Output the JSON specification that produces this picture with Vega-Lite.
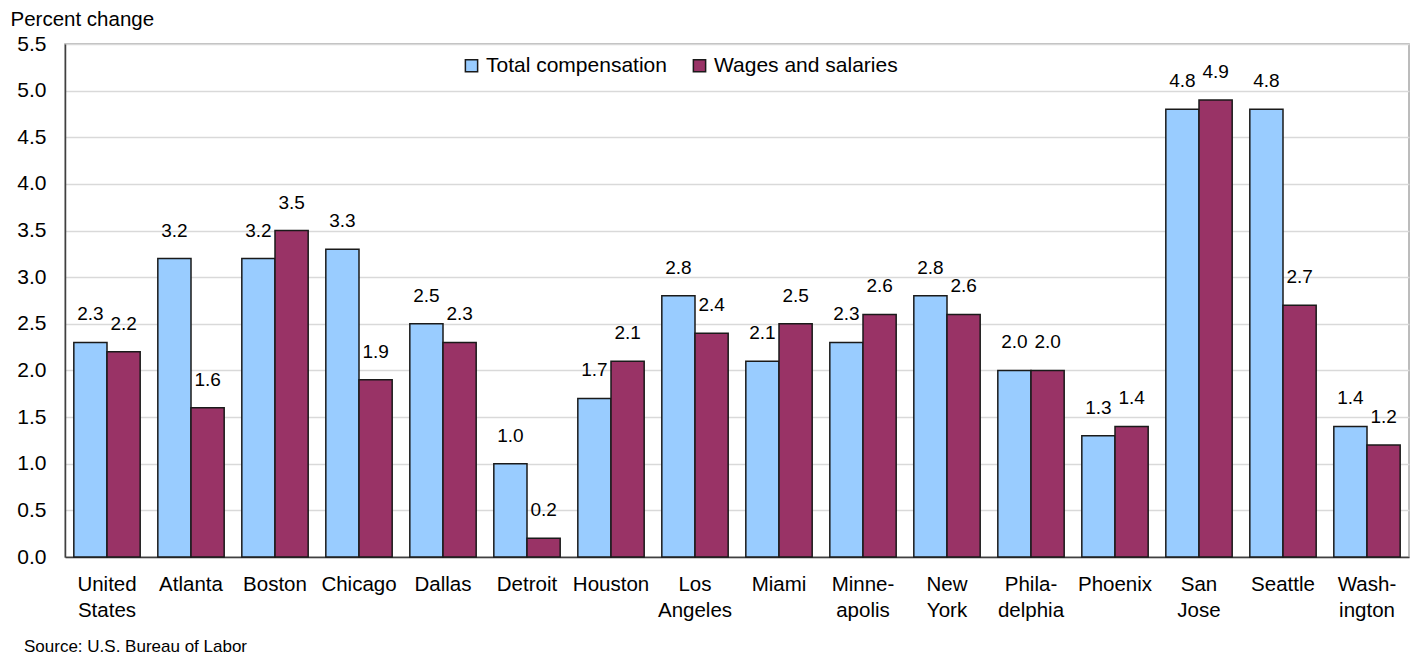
{
  "$schema": "https://vega.github.io/schema/vega-lite/v6.json",
  "width": 1344,
  "height": 513,
  "autosize": {"type": "none"},
  "padding": {"left": 65, "top": 44, "right": 1, "bottom": 98},
  "background": "white",
  "config": {
    "font": "Liberation Sans",
    "view": {"stroke": "#a6a6a6", "strokeWidth": 1.5},
    "title": {"font": "Liberation Sans", "fontWeight": "normal", "color": "#000000"}
  },
  "title": {
    "text": "Source: U.S. Bureau of Labor",
    "orient": "bottom",
    "anchor": "start",
    "frame": "group",
    "fontSize": 17,
    "baseline": "middle",
    "dx": -41,
    "offset": 26
  },
  "data": {
    "values": [
      {"city": "United|States", "series": "Total compensation", "value": 2.3},
      {"city": "United|States", "series": "Wages and salaries", "value": 2.2},
      {"city": "Atlanta", "series": "Total compensation", "value": 3.2},
      {"city": "Atlanta", "series": "Wages and salaries", "value": 1.6},
      {"city": "Boston", "series": "Total compensation", "value": 3.2},
      {"city": "Boston", "series": "Wages and salaries", "value": 3.5},
      {"city": "Chicago", "series": "Total compensation", "value": 3.3},
      {"city": "Chicago", "series": "Wages and salaries", "value": 1.9},
      {"city": "Dallas", "series": "Total compensation", "value": 2.5},
      {"city": "Dallas", "series": "Wages and salaries", "value": 2.3},
      {"city": "Detroit", "series": "Total compensation", "value": 1.0},
      {"city": "Detroit", "series": "Wages and salaries", "value": 0.2},
      {"city": "Houston", "series": "Total compensation", "value": 1.7},
      {"city": "Houston", "series": "Wages and salaries", "value": 2.1},
      {"city": "Los|Angeles", "series": "Total compensation", "value": 2.8},
      {"city": "Los|Angeles", "series": "Wages and salaries", "value": 2.4},
      {"city": "Miami", "series": "Total compensation", "value": 2.1},
      {"city": "Miami", "series": "Wages and salaries", "value": 2.5},
      {"city": "Minne-|apolis", "series": "Total compensation", "value": 2.3},
      {"city": "Minne-|apolis", "series": "Wages and salaries", "value": 2.6},
      {"city": "New|York", "series": "Total compensation", "value": 2.8},
      {"city": "New|York", "series": "Wages and salaries", "value": 2.6},
      {"city": "Phila-|delphia", "series": "Total compensation", "value": 2.0},
      {"city": "Phila-|delphia", "series": "Wages and salaries", "value": 2.0},
      {"city": "Phoenix", "series": "Total compensation", "value": 1.3},
      {"city": "Phoenix", "series": "Wages and salaries", "value": 1.4},
      {"city": "San|Jose", "series": "Total compensation", "value": 4.8},
      {"city": "San|Jose", "series": "Wages and salaries", "value": 4.9},
      {"city": "Seattle", "series": "Total compensation", "value": 4.8},
      {"city": "Seattle", "series": "Wages and salaries", "value": 2.7},
      {"city": "Wash-|ington", "series": "Total compensation", "value": 1.4},
      {"city": "Wash-|ington", "series": "Wages and salaries", "value": 1.2}
    ]
  },
  "encoding": {
    "x": {
      "field": "city",
      "type": "nominal",
      "sort": null,
      "scale": {"paddingInner": 0.21, "paddingOuter": 0.105},
      "axis": {
        "title": null,
        "labelAngle": 0,
        "labelExpr": "split(datum.label, '|')",
        "labelFont": "Liberation Sans",
        "labelFontSize": 20.5,
        "labelColor": "#000000",
        "labelLineHeight": 26,
        "labelPadding": 17,
        "labelBaseline": "top",
        "labelLimit": 0,
        "ticks": false,
        "domainColor": "#404040",
        "domainWidth": 1.5
      }
    },
    "xOffset": {"field": "series", "type": "nominal", "sort": ["Total compensation", "Wages and salaries"]},
    "y": {
      "field": "value",
      "type": "quantitative",
      "scale": {"domain": [0, 5.5], "nice": false},
      "axis": {
        "values": [0, 0.5, 1, 1.5, 2, 2.5, 3, 3.5, 4, 4.5, 5, 5.5],
        "format": ".1f",
        "title": "Percent change",
        "titleAngle": 0,
        "titleAlign": "left",
        "titleBaseline": "middle",
        "titleX": -55,
        "titleY": -25,
        "titleFont": "Liberation Sans",
        "titleFontSize": 20.5,
        "titleFontWeight": "normal",
        "titleColor": "#000000",
        "labelFont": "Liberation Sans",
        "labelFontSize": 21,
        "labelColor": "#000000",
        "labelPadding": 19,
        "ticks": false,
        "grid": true,
        "gridColor": "#d9d9d9",
        "gridWidth": 1.5,
        "domainColor": "#404040",
        "domainWidth": 1.5
      }
    }
  },
  "layer": [
    {
      "mark": {"type": "bar", "stroke": "#1a1a1a", "strokeWidth": 1.5},
      "encoding": {
        "color": {
          "field": "series",
          "type": "nominal",
          "scale": {"domain": ["Total compensation", "Wages and salaries"], "range": ["#99ccff", "#993366"]},
          "legend": {
            "title": null,
            "orient": "none",
            "direction": "horizontal",
            "legendX": 396,
            "legendY": 11,
            "symbolType": "square",
            "symbolSize": 150,
            "symbolStrokeColor": "#1a1a1a",
            "symbolStrokeWidth": 1.5,
            "labelFont": "Liberation Sans",
            "labelFontSize": 21,
            "labelColor": "#000000",
            "labelLimit": 0,
            "labelOffset": 4,
            "columnPadding": 22
          }
        }
      }
    },
    {
      "mark": {"type": "text", "baseline": "middle", "dy": -28, "fontSize": 19, "font": "Liberation Sans", "color": "#000000"},
      "encoding": {
        "text": {"field": "value", "type": "quantitative", "format": ".1f"}
      }
    }
  ]
}
